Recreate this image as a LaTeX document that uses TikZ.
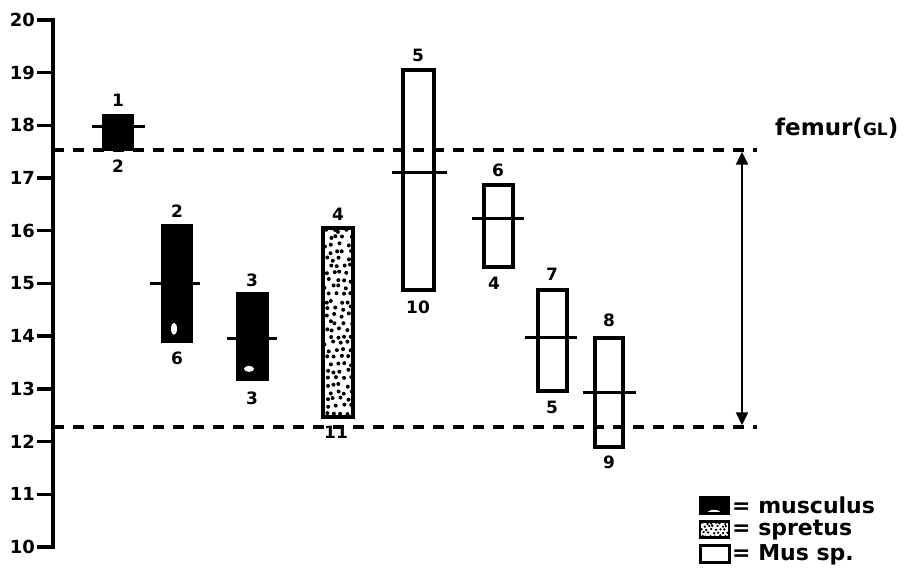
\documentclass[tikz,border=0pt]{standalone}
\usepackage{fontspec}
\setmainfont{DejaVu Sans}
\usetikzlibrary{arrows.meta}
\begin{document}
\begin{tikzpicture}[x=1pt,y=52.7pt,
  num/.style={font=\fontsize{17}{17}\selectfont\bfseries, inner sep=0pt},
  ticklab/.style={font=\fontsize{18}{18}\selectfont\bfseries, anchor=east, inner sep=0pt},
  blackbar/.style={fill=black, draw=black, line width=2pt},
  openbar/.style={draw=black, line width=3.6pt},
  meanline/.style={line width=3pt},
  refline/.style={line width=4pt, dash pattern=on 11pt off 9pt},
  legtext/.style={font=\fontsize{22}{22}\selectfont\bfseries, anchor=west, inner sep=0pt},
  dblarrow/.style={arrows={Triangle[length=13pt,width=12pt]-Triangle[length=13pt,width=12pt]}},
]
\useasboundingbox (0,9.279) rectangle (904,20.3795);
% axis
\draw[line width=4pt] (53,20.03) -- (53,9.97);
\foreach \v in {10,...,20} {
  \draw[line width=3.4pt] (37,\v) -- (53,\v);
  \node[ticklab] (t\v) at (35,\v) {\v};
}
% reference lines
\coordinate (ru0) at (53,17.53);
\coordinate (ru1) at (757,17.53);
\coordinate (rl0) at (53,12.28);
\coordinate (rl1) at (757,12.28);
\draw[refline] (ru0) -- (ru1);
\draw[refline] (rl0) -- (rl1);
% arrow
\coordinate (au) at (742,17.50);
\coordinate (al) at (742,12.31);
\draw[line width=2.4pt, dblarrow] (au) -- (al);
\node[anchor=west, inner sep=0pt, font=\fontsize{23}{23}\selectfont\bfseries] (fem) at (775,17.95) {femur({\fontsize{17}{17}\selectfont GL})};

% ---- musculus bars ----
% bar 1
\fill[blackbar] (103,17.53) rectangle (133,18.2);
\draw[meanline] (92,17.97) -- (145,17.97);
\node[num,yshift=15pt] (b1t) at (118,18.2) {1};
\node[num,yshift=-16pt] (b1b) at (118,17.53) {2};
% bar 2
\fill[blackbar] (162,13.89) rectangle (192,16.11);
\fill[white] (174,14.14) ellipse (3pt and 6pt);
\draw[meanline] (150,15.0) -- (200,15.0);
\node[num,yshift=14pt] (b2t) at (177,16.11) {2};
\node[num,yshift=-16pt] (b2b) at (177,13.89) {6};
% bar 3
\fill[blackbar] (237,13.17) rectangle (268,14.82);
\fill[white] (249,13.38) ellipse (5pt and 3pt);
\draw[meanline] (227,13.95) -- (277,13.95);
\node[num,yshift=13pt] (b3t) at (252,14.82) {3};
\node[num,yshift=-18pt] (b3b) at (252,13.17) {3};

% ---- spretus bar ----
\begin{scope}
\clip (325,12.49) rectangle (351,16.03);
\pgfmathsetseed{11}
\foreach \r in {0,...,26} {
  \foreach \c in {0,...,3} {
    \pgfmathsetmacro\px{326 + \c*7 + mod(\r,2)*3.5 + 2.2*rand}
    \pgfmathsetmacro\py{12.54 + \r*0.133 + 0.035*rand}
    \fill (\px,\py) circle (2pt);
  }
}
\end{scope}
\draw[openbar] (323,12.47) rectangle (353,16.05);
\node[num,yshift=14pt] (b4t) at (338,16.05) {4};
\node[num,yshift=-15pt] (b4b) at (336,12.47) {11};

% ---- Mus sp. bars ----
% bar 5
\draw[openbar] (403,14.88) rectangle (434,19.05);
\draw[meanline] (392,17.1) -- (447,17.1);
\node[num,yshift=15pt] (b5t) at (418,19.05) {5};
\node[num,yshift=-17pt] (b5b) at (418,14.88) {10};
% bar 6
\draw[openbar] (484,15.31) rectangle (513,16.87);
\draw[meanline] (472,16.24) -- (524,16.24);
\node[num,yshift=15pt] (b6t) at (498,16.87) {6};
\node[num,yshift=-16pt] (b6b) at (494,15.31) {4};
% bar 7
\draw[openbar] (538,12.96) rectangle (567,14.88);
\draw[meanline] (525,13.98) -- (577,13.98);
\node[num,yshift=16pt] (b7t) at (552,14.88) {7};
\node[num,yshift=-16pt] (b7b) at (552,12.96) {5};
% bar 8
\draw[openbar] (595,11.9) rectangle (623,13.97);
\draw[meanline] (583,12.94) -- (636,12.94);
\node[num,yshift=17pt] (b8t) at (609,13.97) {8};
\node[num,yshift=-15pt] (b8b) at (609,11.9) {9};

% ---- legend ----
\fill[black] (700,10.63) rectangle (729,10.95);
\fill[white] (714,10.63) ellipse (7pt and 4pt);
\draw[line width=2.8pt] (700,10.63) rectangle (729,10.95);
\node[legtext] (lm) at (732,10.79) {= musculus};

\begin{scope}
\clip (700,10.18) rectangle (729,10.48);
\pgfmathsetseed{5}
\foreach \r in {0,...,4} {
  \foreach \c in {0,...,6} {
    \pgfmathsetmacro\px{702 + \c*4.5 + mod(\r,2)*2.2 + 1.2*rand}
    \pgfmathsetmacro\py{10.21 + \r*0.06 + 0.015*rand}
    \fill (\px,\py) circle (1.3pt);
  }
}
\end{scope}
\draw[line width=2.8pt] (700,10.18) rectangle (729,10.48);
\node[legtext] (ls) at (732,10.33) {= spretus};

\draw[line width=3pt] (700,9.70) rectangle (729,10.02);
\node[legtext] (lx) at (732,9.86) {= Mus sp.};
\end{tikzpicture}
\end{document}
